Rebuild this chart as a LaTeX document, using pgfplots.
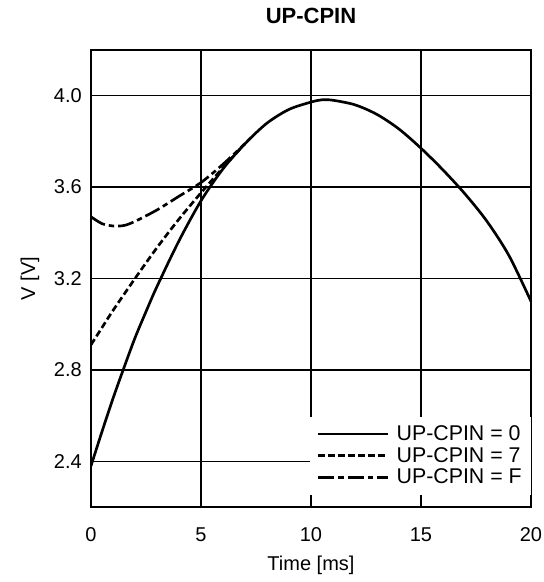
\documentclass[border=0pt]{standalone}
\usepackage{fontspec}
\setmainfont{Liberation Sans}
\usepackage{pgfplots}
\pgfplotsset{compat=1.18}

\begin{document}
\begin{tikzpicture}
\begin{axis}[
  name=ax,
  scale only axis,
  width=330pt, height=342.75pt,
  xmin=0, xmax=20, ymin=2.2, ymax=4.2,
  xtick={0,5,10,15,20},
  ytick={2.4,2.8,3.2,3.6,4.0},
  major tick length=0pt,
  grid=major,
  grid style={black, line width=1.1pt},
  axis line style={line width=1.6pt},
  /pgf/number format/assume math mode=true,
  y tick label style={/pgf/number format/fixed,/pgf/number format/fixed zerofill,/pgf/number format/precision=1},
  tick label style={font=\fontsize{15}{17}\selectfont},
  xticklabel style={anchor=center, yshift=-21pt},
  yticklabel style={anchor=east, inner sep=0pt, xshift=-6.75pt},
  title={UP-CPIN},
  title style={at={(axis description cs:0.5,1.0394)}, anchor=base,
    font=\fontsize{16.5}{18}\selectfont\bfseries},
  xlabel={Time [ms]},
  xlabel style={at={(axis description cs:0.5,-0.127)}, anchor=center,
    font=\fontsize{15}{17}\selectfont},
  ylabel={V [V]},
  ylabel style={at={(axis description cs:-0.139,0.5)}, anchor=center,
    font=\fontsize{15}{17}\selectfont},
  legend style={at={(axis description cs:1,0.0263)}, anchor=south east,
    draw=none, fill=white, inner sep=5pt, row sep=0pt,
    font=\fontsize{16}{17}\selectfont,
    nodes={inner sep=1.75pt}},
  legend cell align=left,
  legend image code/.code={\draw[#1] (0pt,0pt) -- (52pt,0pt); \path (56pt,0pt);},
]
\addplot[black, solid, line width=2pt, smooth] coordinates {
(0,2.38) (0.5,2.53) (1,2.675) (1.5,2.81) (2,2.94) (2.5,3.055) (3,3.165)
(4,3.365) (5,3.54) (6,3.68) (7,3.79) (8,3.88) (9,3.94) (10,3.972)
(10.5,3.982) (11,3.98) (12,3.96) (13,3.918) (14,3.854) (15,3.77)
(16,3.675) (17,3.57) (18,3.45) (19,3.3) (20,3.1)
};
\addplot[black, line width=2pt, smooth, dash pattern=on 5pt off 2.5pt] coordinates {
(0,2.91) (0.5,2.985) (1,3.06) (2,3.2) (3,3.335) (4,3.46) (5,3.575) (6,3.685) (7,3.79)
};
\addplot[black, line width=2pt, smooth, dash pattern=on 12pt off 3pt on 4pt off 3pt] coordinates {
(0,3.47) (0.5,3.44) (1,3.43) (1.5,3.432) (2,3.45) (3,3.5) (4,3.56) (5,3.62) (6,3.7) (7,3.79)
};
\legend{UP-CPIN = 0, UP-CPIN = 7, UP-CPIN = F}
\end{axis}
\pgfresetboundingbox
\path ([shift={(-68.25pt,-56.25pt)}]ax.south west) rectangle ([shift={(9.75pt,37.5pt)}]ax.north east);
\end{tikzpicture}
\end{document}
